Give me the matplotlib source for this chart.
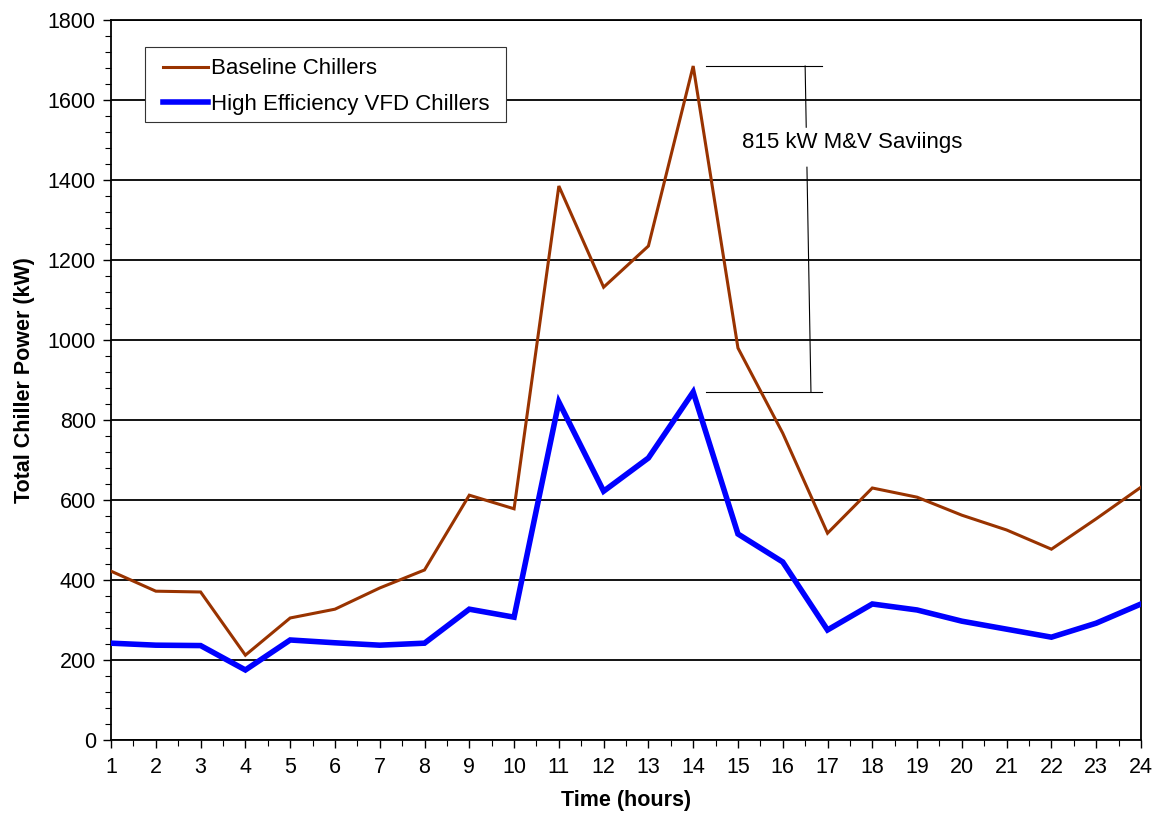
import matplotlib
matplotlib.use("Agg")
import matplotlib.pyplot as plt
from matplotlib.patches import Rectangle
from matplotlib.ticker import MultipleLocator

plt.rcParams['font.family'] = ['Liberation Sans', 'DejaVu Sans']

hours = list(range(1, 25))
baseline = [422, 372, 370, 212, 305, 327, 380, 425, 612, 578, 1385, 1132,
            1235, 1685, 980, 767, 517, 630, 607, 562, 525, 477, 553, 632]
high_eff = [242, 237, 236, 175, 250, 243, 237, 242, 327, 307, 845, 622,
            705, 870, 515, 445, 275, 340, 325, 297, 277, 257, 292, 340]
savings_label = "815 kW M&V Saviings"

fig = plt.figure(figsize=(11.58, 8.21), dpi=100)
ax = fig.add_axes([0.0959, 0.0987, 0.8894, 0.8769])

ax.set_xlim(1, 24)
ax.set_ylim(0, 1800)

ax.yaxis.set_major_locator(MultipleLocator(200))
ax.yaxis.set_minor_locator(MultipleLocator(40))
ax.xaxis.set_major_locator(MultipleLocator(1))
ax.xaxis.set_minor_locator(MultipleLocator(0.5))

ax.grid(axis='y', which='major', color='black', linewidth=1.3)
ax.set_axisbelow(True)

ax.plot(hours, baseline, color='#993300', linewidth=2.2,
        label='Baseline Chillers', zorder=3, solid_joinstyle='miter')
ax.plot(hours, high_eff, color='#0000FF', linewidth=4.0,
        label='High Efficiency VFD Chillers', zorder=4, solid_joinstyle='miter')

# savings bracket at the peak hour
peak_idx = baseline.index(max(baseline))
top_v = baseline[peak_idx]
bot_v = high_eff[peak_idx]
x_left, x_right = 14.29, 16.88
ax.plot([x_left, x_right], [top_v, top_v], color='black', linewidth=0.8, zorder=2)
ax.plot([x_left, x_right], [bot_v, bot_v], color='black', linewidth=0.8, zorder=2)

def bracket_x(v):
    return 16.5 + (top_v - v) / (top_v - bot_v) * 0.13

gap_hi, gap_lo = 1532, 1432
ax.plot([bracket_x(top_v), bracket_x(gap_hi)], [top_v, gap_hi], color='black', linewidth=0.8, zorder=2)
ax.plot([bracket_x(gap_lo), bracket_x(bot_v)], [gap_lo, bot_v], color='black', linewidth=0.8, zorder=2)
ax.text(17.56, 1493, savings_label, ha='center', va='center', fontsize=16)

for side in ['left', 'right', 'top', 'bottom']:
    ax.spines[side].set_linewidth(1.3)
    ax.spines[side].set_color('black')

ax.tick_params(axis='both', which='major', direction='out', length=6, width=1.0,
               labelsize=15.5, colors='black')
ax.tick_params(axis='both', which='minor', direction='out', length=4, width=0.8)
ax.tick_params(axis='y', pad=5)
ax.tick_params(axis='x', pad=6)

ax.set_xlabel('Time (hours)', fontsize=15.5, fontweight='bold', labelpad=9)
ax.set_ylabel('Total Chiller Power (kW)', fontsize=15.5, fontweight='bold', labelpad=9)

# legend box drawn as its own rectangle, entries placed inside it
ax.add_patch(Rectangle((0.033, 0.8583), 0.3505, 0.1042, transform=ax.transAxes,
                       facecolor='white', edgecolor='#333333', linewidth=0.8, zorder=5))
leg = ax.legend(loc='upper left', bbox_to_anchor=(0.0505, 0.9468), fontsize=16,
                frameon=False, handlelength=2.03, handletextpad=0.14, borderpad=0,
                labelspacing=0.66, borderaxespad=0)
leg.set_zorder(6)

fig.savefig('out.png', dpi=100)
